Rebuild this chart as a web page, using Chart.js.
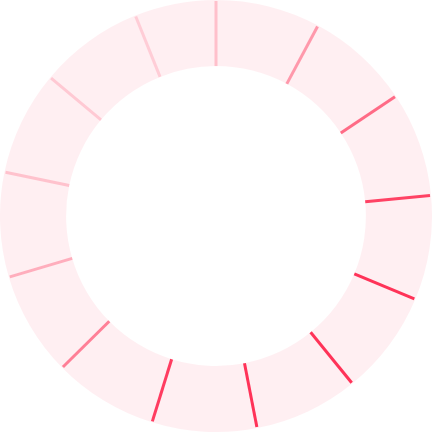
<!DOCTYPE html>
<html>
<head>
<meta charset="utf-8">
<script src="https://cdn.jsdelivr.net/npm/chart.js@4"></script>
<style>
  html, body { margin: 0; padding: 0; background: #fff; }
  #wrap { width: 432px; height: 432px; }
</style>
</head>
<body>
<div id="wrap"><canvas id="ring" width="432" height="432"></canvas></div>
<script>
// segment sizes (12 equal slices and a shorter last one)
const labels = ['1', '2', '3', '4', '5', '6', '7', '8', '9', '10', '11', '12', '13'];
const sizes = [9, 9, 9, 9, 9, 9, 9, 9, 9, 9, 9, 9, 7];
// strength of each segment's separator (percent)
const strength = [25, 46, 70, 92, 100, 100, 100, 95, 60, 35, 24, 20, 18];

const RED = '255, 51, 88';

// draws a radial tick at the start of every arc
const separators = {
  id: 'separators',
  afterDatasetsDraw(chart) {
    const meta = chart.getDatasetMeta(0);
    const ctx = chart.ctx;
    ctx.save();
    ctx.lineWidth = 3;
    meta.data.forEach((arc, i) => {
      const { x, y, startAngle, innerRadius, outerRadius } = arc.getProps(
        ['x', 'y', 'startAngle', 'innerRadius', 'outerRadius'], true);
      const c = Math.cos(startAngle), s = Math.sin(startAngle);
      ctx.strokeStyle = `rgba(${RED}, ${strength[i] / 100})`;
      ctx.beginPath();
      ctx.moveTo(x + c * innerRadius, y + s * innerRadius);
      ctx.lineTo(x + c * (outerRadius - 1), y + s * (outerRadius - 1));
      ctx.stroke();
    });
    ctx.restore();
  }
};

new Chart(document.getElementById('ring'), {
  type: 'doughnut',
  data: {
    labels,
    datasets: [{
      data: sizes,
      backgroundColor: `rgba(${RED}, 0.08)`,
      borderWidth: 0,
      hoverOffset: 0,
    }],
  },
  options: {
    responsive: false,
    animation: false,
    cutout: '69.4%',
    layout: { padding: 0 },
    plugins: {
      legend: { display: false },
      tooltip: { enabled: false },
    },
  },
  plugins: [separators],
});
</script>
</body>
</html>
